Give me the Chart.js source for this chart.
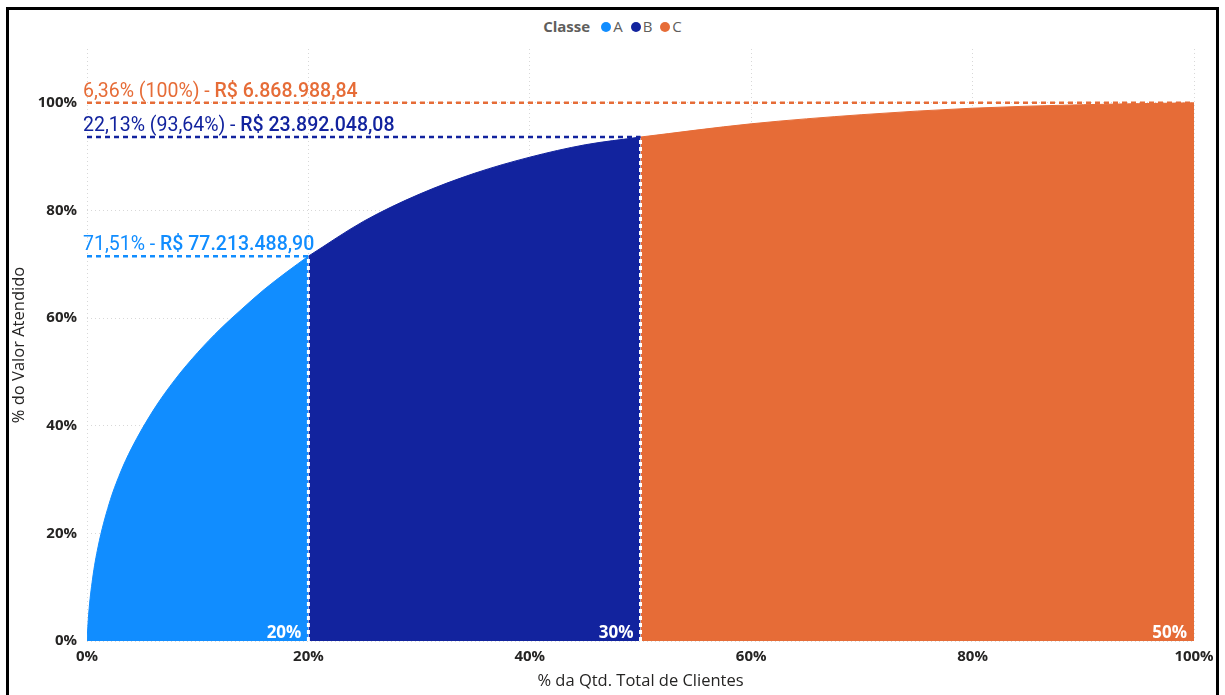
<!DOCTYPE html>
<html>
<head>
<meta charset="utf-8">
<script src="https://cdn.jsdelivr.net/npm/chart.js@4.4.0/dist/chart.umd.min.js"></script>
<style>
  body { margin: 0; background: #fff; width: 1225px; height: 695px; overflow: hidden; position: relative; font-family: "Open Sans", sans-serif; }
  #frame { position: absolute; left: 6px; top: 7px; width: 1207px; height: 720px; border: 3px solid #000; }
  #legend { position: absolute; top: 16px; left: 0; width: 1225px; text-align: center; font-size: 15px; color: #605E5C; }
  #legend b { color: #605E5C; margin-right: 3px; }
  .dot { display: inline-block; width: 10px; height: 10px; border-radius: 50%; margin: 0 2px 0 8px; vertical-align: 0px; }
  #wrap { position: absolute; left: 0; top: 0; width: 1225px; height: 695px; }
</style>
</head>
<body>
<div id="frame"></div>
<div id="legend"><b>Classe</b><span class="dot" style="background:#118DFF"></span>A<span class="dot" style="background:#12239E"></span>B<span class="dot" style="background:#E66C37"></span>C</div>
<div id="wrap"><canvas id="paretoChart"></canvas></div>
<script>
// classes of the ABC curve
var classes = ['A', 'B', 'C'];
var classColors = ['#118DFF', '#12239E', '#E66C37'];

// points (% clientes, % valor acumulado)
var xA = [0, 0.15, 0.5, 1, 2, 3, 4, 6, 8, 10, 12, 14, 16, 18, 20];
var yA = [0, 5, 11.5, 17.5, 25.5, 31.2, 35.7, 42.9, 48.7, 53.6, 57.9, 61.7, 65.3, 68.5, 71.51];
var xB = [20, 25, 30, 35, 40, 45, 50];
var yB = [71.51, 78.0, 83.0, 86.9, 89.9, 92.2, 93.64];
var xC = [50, 60, 70, 80, 90, 100];
var yC = [93.64, 96.1, 97.8, 99.0, 99.65, 100];

// cut points of each class
var cutoffs = [20, 50, 100];
var cumValues = [71.51, 93.64, 100];
var shareLabels = ['20%', '30%', '50%'];
var pctLabels = ['71,51% - ', '22,13% (93,64%) - ', '6,36% (100%) - '];
var amountLabels = ['R$ 77.213.488,90', 'R$ 23.892.048,08', 'R$ 6.868.988,84'];

var tickValues = [0, 20, 40, 60, 80, 100];

function toPoints(xs, ys) {
  var pts = [];
  for (var i = 0; i < xs.length; i++) pts.push({x: xs[i], y: ys[i]});
  return pts;
}

var curveX = [xA, xB, xC];
var curveY = [yA, yB, yC];
var datasets = [];

// horizontal dashed reference lines (drawn on top)
for (var i = 0; i < classes.length; i++) {
  datasets.push({
    label: 'ref ' + classes[i],
    data: [{x: 0, y: cumValues[i]}, {x: cutoffs[i], y: cumValues[i]}],
    borderColor: classColors[i],
    borderWidth: 2.5,
    borderDash: [5, 4],
    pointRadius: 0,
    fill: false,
    order: 0
  });
}
// vertical white dashed separators
for (var i = 0; i < 2; i++) {
  datasets.push({
    label: 'sep ' + classes[i],
    data: [{x: cutoffs[i], y: 0}, {x: cutoffs[i], y: cumValues[i]}],
    borderColor: '#ffffff',
    borderWidth: 3,
    borderDash: [4, 3],
    pointRadius: 0,
    fill: false,
    order: 1
  });
}
// filled areas
for (var i = 0; i < classes.length; i++) {
  datasets.push({
    label: classes[i],
    data: toPoints(curveX[i], curveY[i]),
    backgroundColor: classColors[i],
    borderColor: classColors[i],
    borderWidth: 1,
    pointRadius: 0,
    cubicInterpolationMode: 'monotone',
    fill: 'origin',
    order: 2
  });
}

var labelsPlugin = {
  id: 'paretoLabels',
  afterDatasetsDraw: function(chart) {
    var ctx = chart.ctx;
    var xs = chart.scales.x, ys = chart.scales.y;
    ctx.save();
    // value annotations above dashed lines
    for (var i = 0; i < classes.length; i++) {
      var px = xs.getPixelForValue(0) - 4;
      var py = ys.getPixelForValue(cumValues[i]) - 6;
      ctx.fillStyle = classColors[i];
      ctx.textAlign = 'left';
      ctx.textBaseline = 'alphabetic';
      ctx.font = '400 19.5px Roboto';
      ctx.fillText(pctLabels[i], px, py);
      var w = ctx.measureText(pctLabels[i]).width;
      ctx.font = '500 19.5px Roboto';
      ctx.fillText(amountLabels[i], px + w, py);
    }
    // share of clients in each class
    ctx.fillStyle = '#ffffff';
    ctx.font = 'bold 17px "Open Sans"';
    ctx.textAlign = 'right';
    for (var i = 0; i < classes.length; i++) {
      ctx.fillText(shareLabels[i], xs.getPixelForValue(cutoffs[i]) - 7, ys.getPixelForValue(0) - 3);
    }
    ctx.restore();
  }
};

new Chart(document.getElementById('paretoChart'), {
  type: 'line',
  data: { datasets: datasets },
  plugins: [labelsPlugin],
  options: {
    responsive: true,
    maintainAspectRatio: false,
    animation: false,
    layout: { padding: { left: 8, top: 49, right: 31, bottom: 0 } },
    plugins: {
      legend: { display: false },
      tooltip: { enabled: false }
    },
    scales: {
      x: {
        type: 'linear',
        min: 0,
        max: 100,
        afterBuildTicks: function(axis) { axis.ticks = tickValues.map(function(v) { return {value: v}; }); },
        afterFit: function(axis) { axis.height = 54; },
        ticks: {
          padding: 7,
          color: '#252423',
          font: { family: 'Open Sans', size: 15, weight: 'bold' },
          callback: function(v) { return v + '%'; }
        },
        grid: { color: '#d8d8d8', drawTicks: false },
        border: { display: false, dash: [1, 3] },
        title: {
          display: true,
          text: '% da Qtd. Total de Clientes',
          color: '#252423',
          font: { family: 'Open Sans', size: 16.5 },
          padding: { top: 4, bottom: 4 }
        }
      },
      y: {
        min: 0,
        max: 110,
        afterBuildTicks: function(axis) { axis.ticks = tickValues.map(function(v) { return {value: v}; }); },
        afterFit: function(axis) { axis.width = 79; },
        ticks: {
          padding: 10,
          color: '#252423',
          font: { family: 'Open Sans', size: 15, weight: 'bold' },
          callback: function(v) { return v + '%'; }
        },
        grid: { color: '#d8d8d8', drawTicks: false },
        border: { display: false, dash: [1, 3] },
        title: {
          display: true,
          text: '% do Valor Atendido',
          color: '#252423',
          font: { family: 'Open Sans', size: 16.5 },
          padding: { top: 1, bottom: 4 }
        }
      }
    }
  }
});
</script>
</body>
</html>
